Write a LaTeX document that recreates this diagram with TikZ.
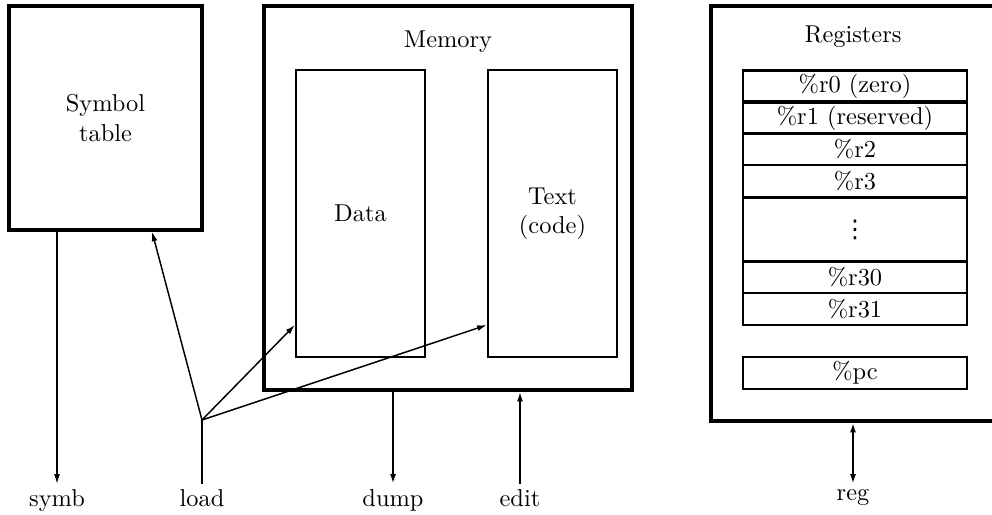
\documentclass[tikz,border=0pt]{standalone}
\usepackage{fontspec}
\usetikzlibrary{arrows.meta}
\newfontfamily\dotsfont{DejaVu Sans}
\newlength\pxu
\setlength\pxu{0.0144cm}
\tikzset{
	box/.style={draw, line width=1.25pt, inner sep=0pt, align=center},
	inner box/.style={box, line width=0.9pt},
	cell/.style={draw, line width=0.9pt, inner sep=0pt, minimum width=224\pxu},
	thin arrow/.style={line width=0.6pt, -{Latex[length=4pt,width=2.4pt]}},
	io/.style={inner sep=2pt}
}
\begin{document}
\begin{tikzpicture}[x=\pxu, y=-\pxu]
	\useasboundingbox (0,0) rectangle (992,514);
	
	\node[box, minimum width=193\pxu, minimum height=224\pxu] (symtab) at (105.5,118) {Symbol\\table};
	
	\node[box, minimum width=368\pxu, minimum height=384\pxu] (mem) at (448,198) {};
	\node (memlabel) at (448,42) {Memory};
	\node[inner box, minimum width=129\pxu, minimum height=287\pxu] (data) at (360.5,213.5) {Data};
	\node[inner box, minimum width=129\pxu, minimum height=287\pxu] (text) at (552.5,213.5) {Text\\(code)};
	
	\node[box, minimum width=290\pxu, minimum height=415\pxu] (regs) at (856,213.5) {};
	\node (reglabel) at (853,37) {Registers};
	\node[cell, minimum height=31\pxu] (r0) at (855,86) {\%r0 (zero)};
	\node[cell, minimum height=31\pxu] (r1) at (855,118) {\%r1 (reserved)};
	\node[cell, minimum height=31\pxu] (r2) at (855,149.5) {\%r2};
	\node[cell, minimum height=32\pxu] (r3) at (855,181) {\%r3};
	\node[cell, minimum height=64\pxu] (dots) at (855,229.5) {\dotsfont ⋮};
	\node[cell, minimum height=31\pxu] (r30) at (855,277.5) {\%r30};
	\node[cell, minimum height=32\pxu] (r31) at (855,309) {\%r31};
	\node[cell, minimum height=32\pxu] (pc) at (855,373) {\%pc};
	
	\node[io, anchor=north] (symb) at (57,484) {symb};
	\node[io, anchor=north] (load) at (202,484) {load};
	\node[io, anchor=north] (dump) at (393,484) {dump};
	\node[io, anchor=north] (edit) at (520,484) {edit};
	\node[io, anchor=north] (reg) at (853,484) {reg};
	\coordinate (fork) at (202,420);
	
	\draw[thin arrow] (symtab.south -| symb) -- (symb.north);
	\draw[line width=0.6pt] (load.north) -- (fork);
	\draw[thin arrow] (fork) -- (symtab.south -| 152,0);
	\draw[thin arrow] (fork) -- (0,325 -| data.west);
	\draw[thin arrow] (fork) -- (0,325 -| text.west);
	\draw[thin arrow, line width=1.2pt] (mem.south -| dump) -- (dump.north);
	\draw[thin arrow, line width=0.8pt] (edit.north) -- (mem.south -| edit);
	\draw[thin arrow, line width=0.8pt, {Latex[length=4pt,width=2.4pt]}-{Latex[length=4pt,width=2.4pt]}] (regs.south -| reg) -- (reg.north);
\end{tikzpicture}
\end{document}
